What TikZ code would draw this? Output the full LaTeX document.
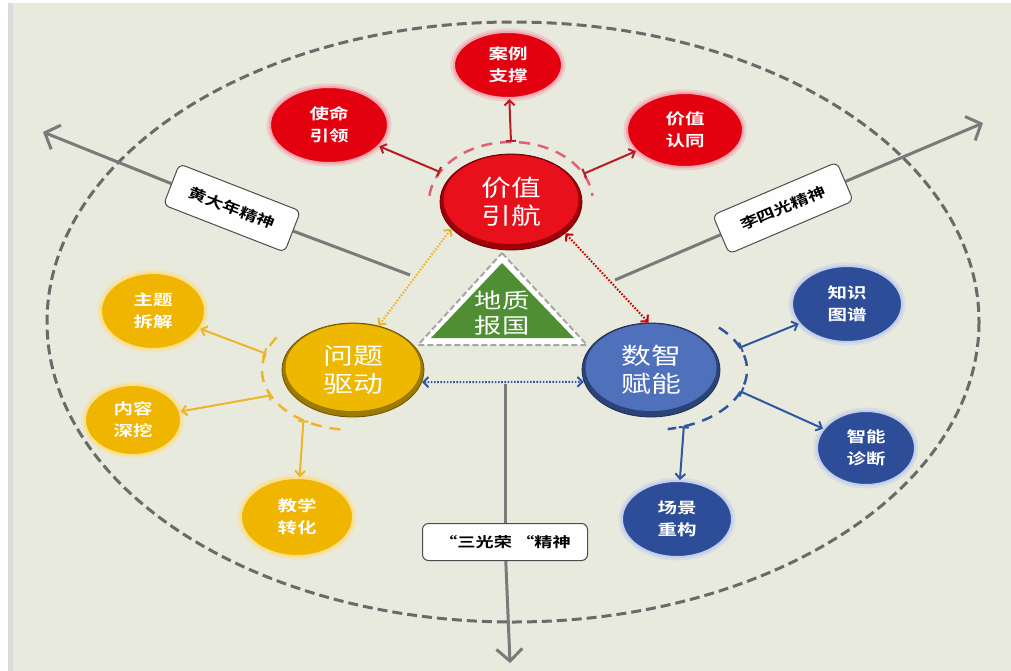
\documentclass[tikz,border=0pt]{standalone}
\usepackage{fontspec}
\newfontfamily\cjk[FakeStretch=1.3,BoldFont={* Bold}]{Noto Sans CJK SC}
\usetikzlibrary{shapes.geometric,arrows.meta,calc}
\pgfdeclarelayer{backmost}
\pgfdeclarelayer{axes}
\pgfsetlayers{backmost,axes,main}
\definecolor{bg}{HTML}{E9EADE}
\definecolor{axisgray}{HTML}{7A7A7A}
\definecolor{ellgray}{HTML}{6A6A6A}
\definecolor{redmain}{HTML}{E8111B}
\definecolor{redrim}{HTML}{9E0008}
\definecolor{redsmall}{HTML}{E3000F}
\definecolor{redglow}{HTML}{F4A6B0}
\definecolor{redarrow}{HTML}{B81C24}
\definecolor{redring}{HTML}{E0607A}
\definecolor{yelmain}{HTML}{EFB800}
\definecolor{yelrim}{HTML}{9C7A00}
\definecolor{yelsmall}{HTML}{EFB500}
\definecolor{yelglow}{HTML}{FAE08A}
\definecolor{yelarrow}{HTML}{F0B429}
\definecolor{bluemain}{HTML}{4F70BA}
\definecolor{bluerim}{HTML}{2C4378}
\definecolor{bluesmall}{HTML}{2D4D98}
\definecolor{blueglow}{HTML}{C3CFEA}
\definecolor{bluearrow}{HTML}{2F56A0}
\definecolor{greenmain}{HTML}{4F8E33}
\tikzset{
  bignode/.style={ellipse, inner sep=0pt, text=white, align=center,
    font=\cjk\fontsize{23}{28}\selectfont},
  smallnode/.style={ellipse, inner sep=0pt, text=white, align=center,
    font=\cjk\bfseries\fontsize{15}{22}\selectfont, line width=2pt},
  redsm/.style={smallnode, fill=redsmall, draw=redglow,
    preaction={draw=redglow, line width=7pt, opacity=0.45}},
  yelsm/.style={smallnode, fill=yelsmall, draw=yelglow,
    preaction={draw=yelglow, line width=7pt, opacity=0.45}},
  bluesm/.style={smallnode, fill=bluesmall, draw=blueglow,
    preaction={draw=blueglow, line width=7pt, opacity=0.45}},
  ringline/.style={line width=2.5pt, dash pattern=on 11pt off 8pt},
  barhead/.style={line width=2pt, {Bar[width=10pt]}-{Straight Barb[length=5pt,width=10pt]}},
  dotarrow/.style={line width=2pt, dash pattern=on 1.6pt off 1.6pt,
    {Straight Barb[length=5pt,width=10pt]}-{Straight Barb[length=5pt,width=10pt]}},
  axisline/.style={draw=axisgray, line width=3pt},
  axishead/.style={-{Straight Barb[length=12pt,width=26pt]}},
  lbl/.style={draw=black!70, fill=white!96!bg, rounded corners=6pt, line width=1pt,
    inner sep=0pt, font=\cjk\bfseries\fontsize{14}{16}\selectfont, text=black}
}
\begin{document}
\begin{tikzpicture}[x=1pt,y=-1pt]
\useasboundingbox (0,0) rectangle (1011,671);
\begin{pgfonlayer}{backmost}
\fill[white] (0,0) rectangle (1011,671);
\fill[black!14] (8,3) rectangle (13,671);
\fill[bg] (13,3) rectangle (1011,671);
\draw[ellgray, line width=3pt, dash pattern=on 10pt off 5pt] (513,322) ellipse [x radius=466, y radius=300];
\end{pgfonlayer}
% axis labels
\node[lbl, rotate=-21.3, minimum width=130pt, minimum height=44pt] (L1) at (232,208) {黄大年精神};
\node[lbl, rotate=23.1, minimum width=135pt, minimum height=42pt] (L2) at (783,208) {李四光精神};
\node[lbl, minimum width=165pt, minimum height=37pt] (L3) at (505,542) {“三光荣 “精神};
\coordinate (a1s) at (410,275); \coordinate (a1e) at (43,132);
\coordinate (a2s) at (615,280); \coordinate (a2e) at (983,123);
\coordinate (a3s) at (505,384); \coordinate (a3e) at (510,663);
\begin{pgfonlayer}{axes}
\draw[axisline] (a1s) -- (L1);
\draw[axisline, axishead] (L1) -- (a1e);
\draw[axisline] (a2s) -- (L2);
\draw[axisline, axishead] (L2) -- (a2e);
\draw[axisline] (a3s) -- (L3);
\draw[axisline, axishead] (L3) -- (a3e);
\end{pgfonlayer}
% triangle
\filldraw[fill=white, draw=black!35, line width=2pt, dash pattern=on 6pt off 3pt] (502,253) -- (587,345) -- (418,345) -- cycle;
\fill[greenmain] (502,263) -- (574,338) -- (431,338) -- cycle;
\node[text=white, align=center, font=\cjk\fontsize{21}{25}\selectfont] (T) at (502,313) {地质\\报国};
% big nodes
\node[bignode, fill=redrim, draw=redrim!70!black, line width=0.8pt, minimum width=142pt, minimum height=96pt,
  path picture={\fill[redmain] ([yshift=2.5pt]path picture bounding box.center) ellipse [x radius=67.5pt, y radius=44.5pt];}] (V) at (511,202) {价值\\引航};
\node[bignode, fill=yelrim, draw=yelrim!70!black, line width=0.8pt, minimum width=142pt, minimum height=94pt,
  path picture={\fill[yelmain] ([yshift=2.5pt]path picture bounding box.center) ellipse [x radius=67.5pt, y radius=43.5pt];}] (Q) at (353,370) {问题\\驱动};
\node[bignode, fill=bluerim, draw=bluerim!70!black, line width=0.8pt, minimum width=138pt, minimum height=94pt,
  path picture={\fill[bluemain] ([yshift=2.5pt]path picture bounding box.center) ellipse [x radius=65.5pt, y radius=43.5pt];}] (S) at (651,370) {数智\\赋能};
% small nodes
\node[redsm, minimum width=118pt, minimum height=76pt] (r1) at (329,125) {使命\\引领};
\node[redsm, minimum width=108pt, minimum height=66pt] (r2) at (508,65) {案例\\支撑};
\node[redsm, minimum width=116pt, minimum height=74pt] (r3) at (685,130) {价值\\认同};
\node[yelsm, minimum width=104pt, minimum height=76pt] (y1) at (153,311) {主题\\拆解};
\node[yelsm, minimum width=96pt, minimum height=70pt] (y2) at (133,420) {内容\\深挖};
\node[yelsm, minimum width=112pt, minimum height=78pt] (y3) at (297,517) {教学\\转化};
\node[bluesm, minimum width=110pt, minimum height=76pt] (b1) at (847,304) {知识\\图谱};
\node[bluesm, minimum width=98pt, minimum height=74pt] (b2) at (866,448) {智能\\诊断};
\node[bluesm, minimum width=110pt, minimum height=76pt] (b3) at (677,519) {场景\\重构};
% dotted double arrows
\draw[dotarrow, draw=yelarrow] (V.204) -- (Q.60);
\draw[dotarrow, draw=red!80!black] (V.330) -- (S.93);
\draw[dotarrow, draw=bluearrow] (Q.350) -- (S.190);
% rings
\draw[ringline, redring] (V.center) ++(186:82 and 60) arc[start angle=186, end angle=354, x radius=82, y radius=60];
\draw[ringline, yelarrow] (Q.center) ++(98:91 and 60) arc[start angle=98, end angle=215, x radius=91, y radius=60];
\draw[ringline, bluearrow] (S.center) ++(-45:96 and 60) arc[start angle=-45, end angle=80, x radius=96, y radius=60];
% ring points
\path (V.center) ++(210:82 and 60) coordinate (pv1);
\path (V.center) ++(270:82 and 60) coordinate (pv2);
\path (V.center) ++(332:82 and 60) coordinate (pv3);
\path (Q.center) ++(196:91 and 60) coordinate (pq1);
\path (Q.center) ++(155:91 and 60) coordinate (pq2);
\path (Q.center) ++(123:91 and 60) coordinate (pq3);
\path (S.center) ++(-22:96 and 60) coordinate (ps1);
\path (S.center) ++(21:96 and 60) coordinate (ps2);
\path (S.center) ++(70:96 and 60) coordinate (ps3);
% bar arrows
\draw[barhead, redarrow] (pv1) -- (r1);
\draw[barhead, redarrow] (pv2) -- (r2);
\draw[barhead, redarrow] (pv3) -- (r3);
\draw[barhead, yelarrow] (pq1) -- (y1);
\draw[barhead, yelarrow] (pq2) -- (y2);
\draw[barhead, yelarrow] (pq3) -- (y3);
\draw[barhead, bluearrow] (ps1) -- (b1);
\draw[barhead, bluearrow] (ps2) -- (b2);
\draw[barhead, bluearrow] (ps3) -- (b3);
\end{tikzpicture}
\end{document}
